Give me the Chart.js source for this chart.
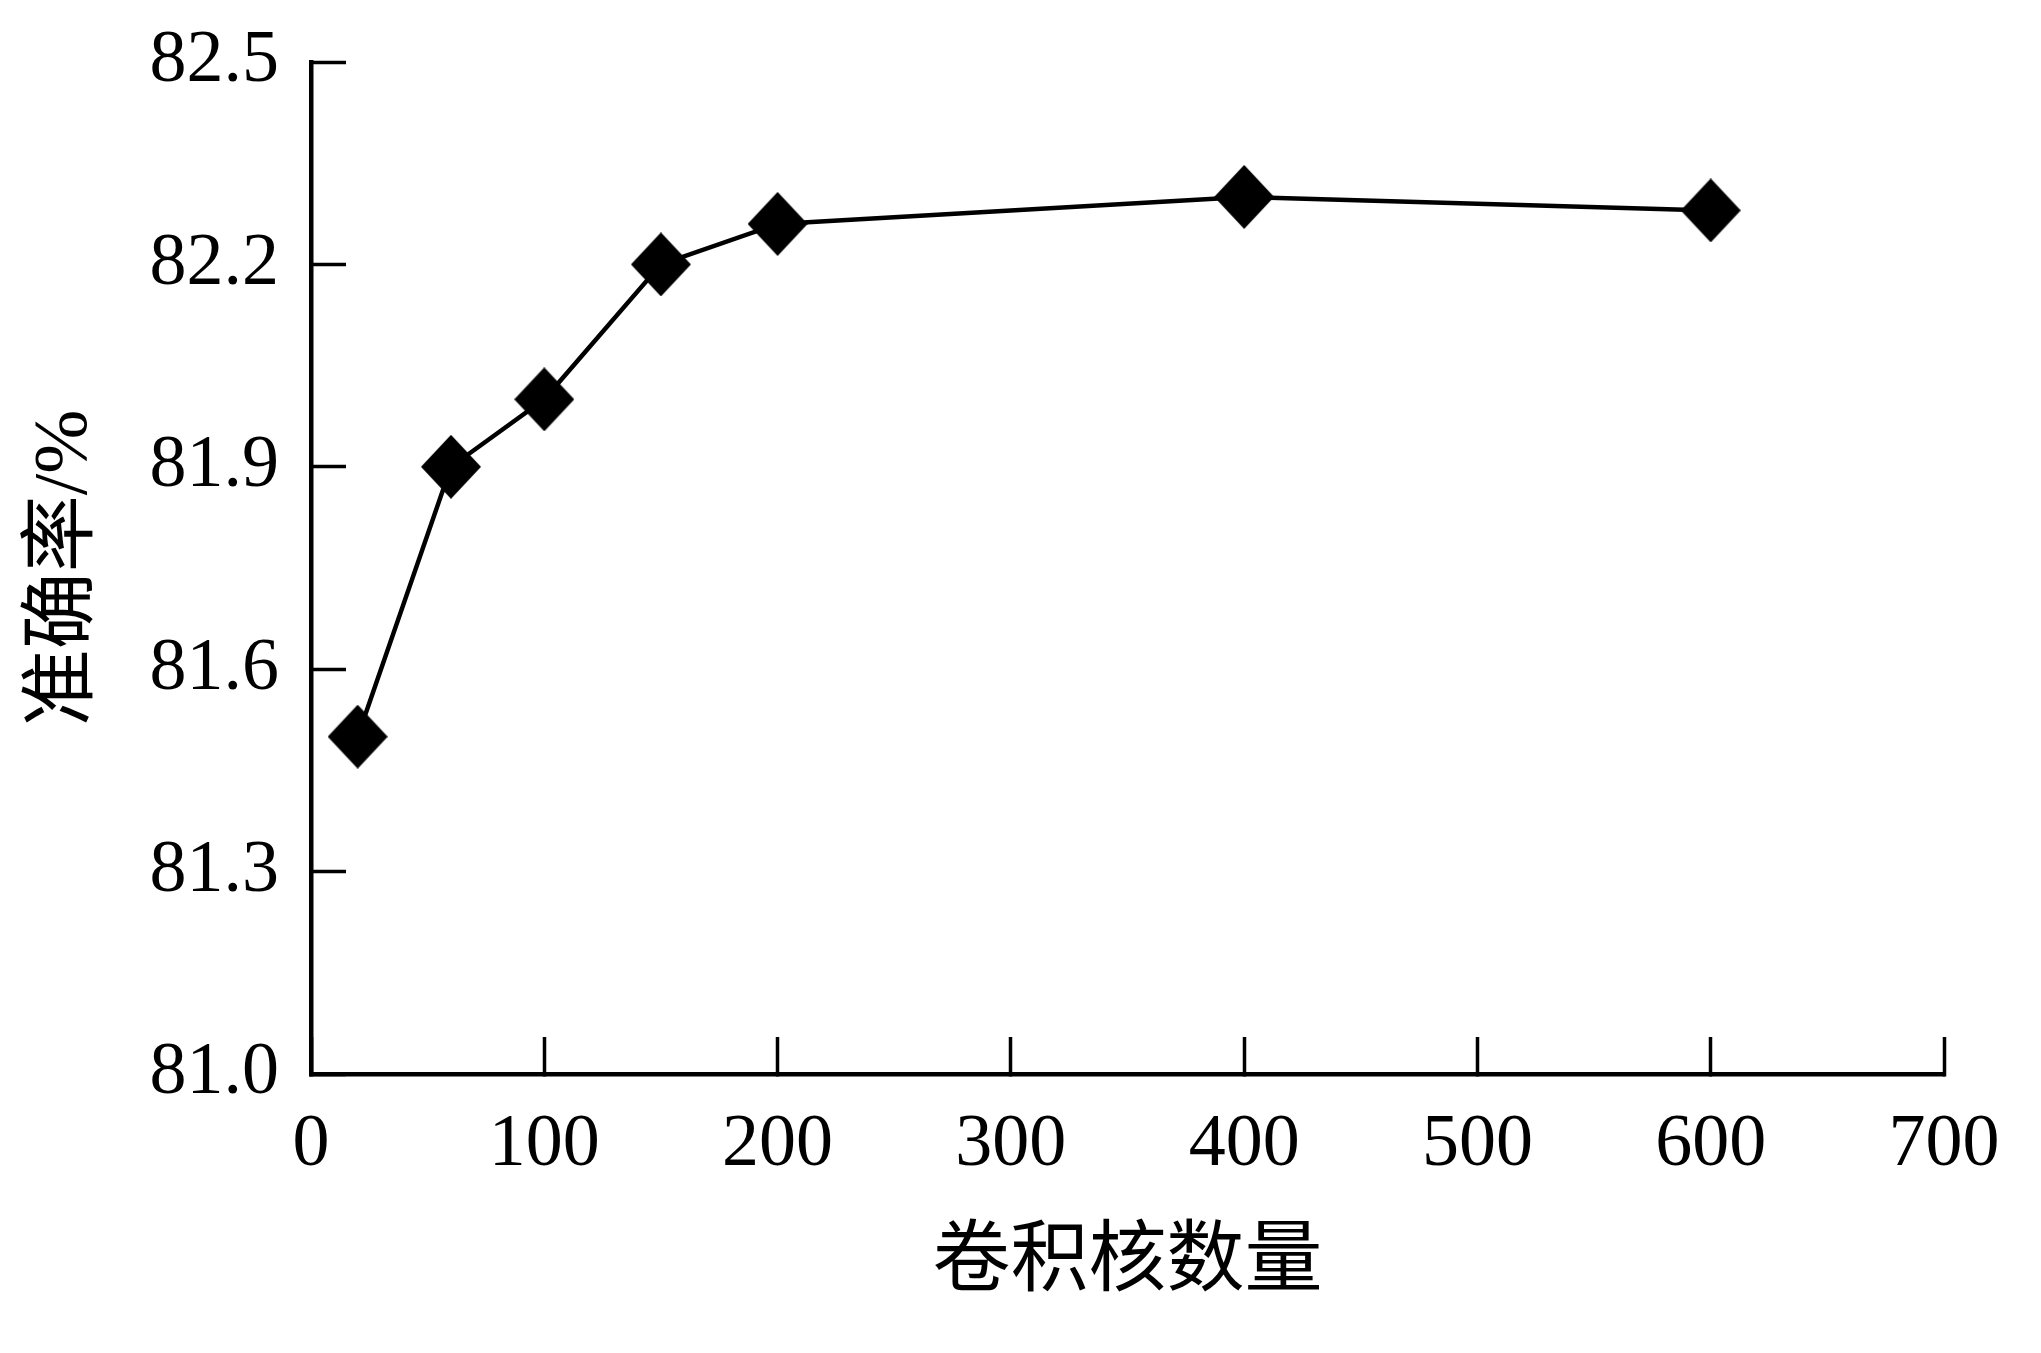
<!DOCTYPE html>
<html>
<head>
<meta charset="utf-8">
<script src="https://cdn.jsdelivr.net/npm/chart.js@4/dist/chart.umd.min.js"></script>
<style>
  html, body { margin: 0; padding: 0; background: #fff; }
  #wrap { width: 2041px; height: 1353px; position: relative; }
</style>
</head>
<body>
<div id="wrap"><canvas id="c"></canvas></div>
<script>
// 数据
const kernelCounts = [20, 60, 100, 150, 200, 400, 600];
const accuracy = [81.5, 81.9, 82.0, 82.2, 82.26, 82.3, 82.28];

const xTitle = "卷积核数量";
const yTitle = "准确率/%";

const SERIF = '"Liberation Serif", "Times New Roman", "Noto Sans CJK SC", serif';

// 菱形标记（略高于宽）
function diamond_(w, h) {
  const cv = document.createElement("canvas");
  cv.width = w; cv.height = h;
  const g = cv.getContext("2d");
  g.fillStyle = "#000";
  g.beginPath();
  g.moveTo(w / 2, 0);
  g.lineTo(w, h / 2);
  g.lineTo(w / 2, h);
  g.lineTo(0, h / 2);
  g.closePath();
  g.fill();
  return cv;
}
const marker = diamond_(60, 64);

new Chart(document.getElementById("c"), {
  type: "line",
  data: {
    datasets: [{
      data: kernelCounts.map((x, i) => ({ x, y: accuracy[i] })),
      borderColor: "#000",
      borderWidth: 4.5,
      pointStyle: marker,
      pointRadius: 30,
      tension: 0,
      fill: false,
    }],
  },
  options: {
    responsive: true,
    maintainAspectRatio: false,
    animation: false,
    layout: { autoPadding: false, padding: { left: 0, top: 62, right: 97, bottom: 0 } },
    plugins: { legend: { display: false }, tooltip: { enabled: false } },
    scales: {
      x: {
        type: "linear",
        min: 0, max: 700,
        ticks: {
          stepSize: 100,
          color: "#000",
          font: { family: SERIF, size: 74 },
          padding: 64,
          maxRotation: 0,
        },
        grid: {
          drawOnChartArea: false,
          drawTicks: true,
          tickLength: -37,
          tickWidth: 3.5,
          tickColor: "#000",
        },
        border: { display: true, color: "#000", width: 4.5 },
        title: {
          display: true,
          text: xTitle,
          color: "#000",
          font: { family: SERIF, size: 78 },
          padding: { top: 0, bottom: 42 },
        },
        afterFit: (s) => {
          // 固定绘图区位置
          s.height = 1353 - 1074;
          s.paddingLeft = 0; s.paddingRight = 0;
        },
      },
      y: {
        min: 81.0, max: 82.5,
        ticks: {
          stepSize: 0.3,
          color: "#000",
          font: { family: SERIF, size: 74 },
          padding: 67,
          callback: (v) => Number(v).toFixed(1),
        },
        grid: {
          drawOnChartArea: false,
          drawTicks: true,
          tickLength: -35,
          tickWidth: 3.5,
          tickColor: "#000",
        },
        border: { display: true, color: "#000", width: 4.5 },
        title: {
          display: true,
          text: yTitle,
          color: "#000",
          font: { family: SERIF, size: 77 },
          padding: { top: 20, bottom: 0 },
        },
        afterFit: (s) => {
          s.width = 311;
          s.paddingTop = 0; s.paddingBottom = 0;
        },
      },
    },
  },
});
</script>
</body>
</html>
